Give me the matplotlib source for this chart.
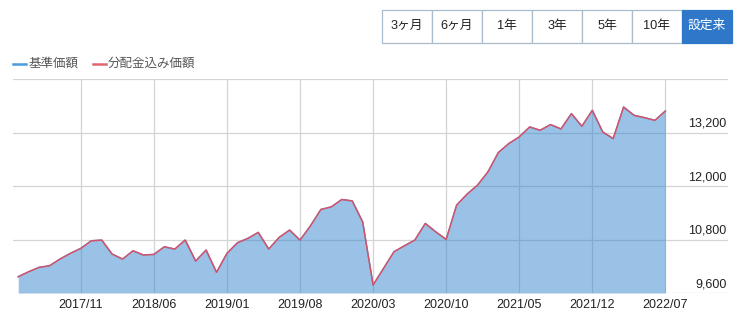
import numpy as np
import pandas as pd
import matplotlib
matplotlib.use("Agg")
import matplotlib.pyplot as plt
from matplotlib.patches import Rectangle
from matplotlib.lines import Line2D

plt.rcParams['font.family'] = ['Liberation Sans', 'Noto Sans CJK JP', 'DejaVu Sans']

# monthly values, 2017/05 .. 2022/07
months = pd.date_range('2017-05-01', periods=63, freq='MS')
nav = [
    9965, 10077, 10175, 10211, 10361, 10489, 10601, 10771,
    10787, 10473, 10361, 10547, 10451, 10466, 10636, 10585, 10787, 10316, 10563, 10063,
    10489, 10726, 10825, 10959, 10585, 10847, 11011, 10787, 11107, 11474, 11532, 11697,
    11666, 11196, 9779, 10152, 10525, 10659, 10787, 11160, 10972, 10802, 11570, 11817,
    12018, 12316, 12750, 12952, 13101, 13324, 13250, 13377, 13280, 13623, 13339, 13697,
    13211, 13064, 13771, 13585, 13533, 13473, 13682,
]
# no distributions paid, so both series coincide
nav_with_dist = list(nav)

tick_labels = ['2017/11', '2018/06', '2019/01', '2019/08', '2020/03',
               '2020/10', '2021/05', '2021/12', '2022/07']
y_ticks = [9600, 10800, 12000, 13200, 14400]
y_labels = ['9,600', '10,800', '12,000', '13,200', '']
buttons = ['3ヶ月', '6ヶ月', '1年', '3年', '5年', '10年', '設定来']
legend_names = ['基準価額', '分配金込み価額']

W, H = 741, 327
fig = plt.figure(figsize=(W / 100, H / 100), dpi=100)

def fx(x):
    return x / W

def fy(y):
    return 1 - y / H

ax = fig.add_axes([fx(13), fy(293), fx(728 - 13), (293 - 79) / H])

x = np.arange(len(months))
labels_fmt = months.strftime('%Y/%m')
tick_pos = [list(labels_fmt).index(t) for t in tick_labels]

ax.fill_between(x, nav, 9600, color='#2a7fcc', alpha=0.47, lw=0, zorder=2)
ax.plot(x, nav, color='#4a9be0', lw=1.0, zorder=3)
ax.plot(x, nav_with_dist, color='#d4536a', lw=1.1, zorder=4)

ax.set_xlim(-0.5, 68.0)
ax.set_ylim(9600, 14400)
ax.set_axisbelow(True)
ax.set_xticks(tick_pos, tick_labels)
ax.set_yticks(y_ticks)
ax.set_yticklabels([])
ax.grid(True, color='#d4d4d4', lw=0.9)
ax.tick_params(axis='both', length=0)
ax.tick_params(axis='x', pad=4.5, labelsize=9, colors='#222222')
for s in ax.spines.values():
    s.set_visible(False)

for v, lab in zip(y_ticks, y_labels):
    if lab:
        ax.annotate(lab, xy=(1, v), xycoords=('axes fraction', 'data'),
                    xytext=(-1, 2), textcoords='offset points',
                    ha='right', va='bottom', fontsize=9, color='#222222')

# legend
legend_colors = ['#4a9be0', '#e0666e']
legend_x = [13, 93]
for name, c, lx in zip(legend_names, legend_colors, legend_x):
    fig.add_artist(Line2D([fx(lx), fx(lx + 12.5)], [fy(64), fy(64)],
                          color=c, lw=1.8))
    fig.text(fx(lx + 15), fy(64), name, fontsize=9, color='#555555',
             va='center', ha='left')

# period buttons
bx0, bw, by0, bh = 382, 50, 9.5, 33
for i, b in enumerate(buttons):
    sel = i == len(buttons) - 1
    rect = Rectangle((fx(bx0 + i * bw), fy(by0 + bh)), fx(bw), bh / H,
                     transform=fig.transFigure,
                     facecolor='#2f78c9' if sel else 'white',
                     edgecolor='#2f78c9' if sel else '#a9bccd', lw=0.9)
    fig.add_artist(rect)
    fig.text(fx(bx0 + i * bw + bw / 2), fy(by0 + bh / 2), b,
             fontsize=9.2, ha='center', va='center',
             color='white' if sel else '#222222')

fig.savefig('out.png', dpi=100)
